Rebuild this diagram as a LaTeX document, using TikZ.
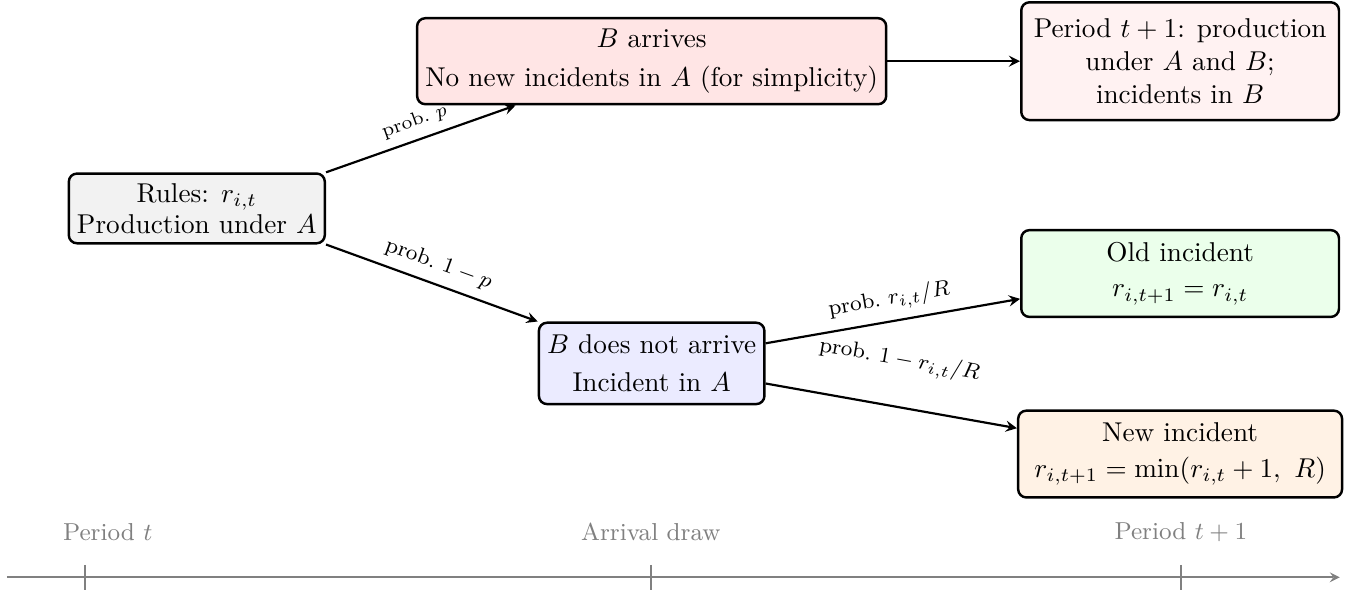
\documentclass[tikz,border=0pt]{standalone}
\usepackage{amsmath}
\usepackage{amssymb}
\usepackage{tikz}

\begin{document}
\begin{tikzpicture}[thick,->,>=stealth,
  box/.style={draw,line width=0.9pt,rounded corners=3pt,align=center,inner xsep=3pt,inner ysep=2.5pt},
  lbl/.style={above,sloped,font=\footnotesize},
  tick/.style={gray,-},
  when/.style={text=gray,font=\small}]
  \useasboundingbox (0,0) rectangle (17.5,7.63);

  \node[box,fill=gray!10,minimum width=3.24cm,minimum height=0.9cm] (rules) at (2.54,4.94)
    {Rules: $r_{i,t}$\\[-0.5pt]Production under $A$};
  \node[box,fill=red!10,minimum width=5.82cm,minimum height=1.11cm] (arrive) at (8.41,6.84)
    {$B$ arrives\\[2.5pt]No new incidents in $A$ (for simplicity)};
  \node[box,fill=red!5,minimum width=4.10cm,minimum height=1.52cm] (next) at (15.23,6.84)
    {Period $t+1$: production\\under $A$ and $B$;\\incidents in $B$};
  \node[box,fill=blue!8,minimum width=2.86cm,minimum height=1.05cm] (notarr) at (8.41,2.94)
    {$B$ does not arrive\\[2pt]Incident in $A$};
  \node[box,fill=green!8,minimum width=4.10cm,minimum height=1.12cm] (old) at (15.23,4.10)
    {Old incident\\[1pt]$r_{i,t+1}=r_{i,t}$};
  \node[box,fill=orange!10,minimum width=4.18cm,minimum height=1.12cm] (new) at (15.23,1.77)
    {New incident\\[1pt]$r_{i,t+1}=\min(r_{i,t}+1,\ R)$};

  \path (rules.north east) edge node[lbl,font=\scriptsize] {prob.\ $p$} (arrive.198);
  \path (rules.south east) edge node[lbl] {prob.\ $1-p$} (notarr.north west);
  \path (arrive) edge (next);
  \path (notarr.10) edge node[lbl] {prob.\ $r_{i,t}/R$} (old.189);
  \path (notarr.-10) edge node[lbl,above=9pt] {prob.\ $1-r_{i,t}/R$} (new.171);

  % time axis
  \coordinate (t0) at (0.09,0.18);
  \coordinate (t1) at (17.29,0.18);
  \draw[gray,semithick] (t0) -- (t1);
  \foreach \x in {1.10,8.40,15.24}
    \draw[tick,semithick] (\x,0.34) -- (\x,0.02);
  \node[when] (pt) at (1.39,0.76) {Period $t$};
  \node[when] (draw) at (8.40,0.76) {Arrival draw};
  \node[when] (pt1) at (15.24,0.76) {Period $t+1$};
\end{tikzpicture}
\end{document}
